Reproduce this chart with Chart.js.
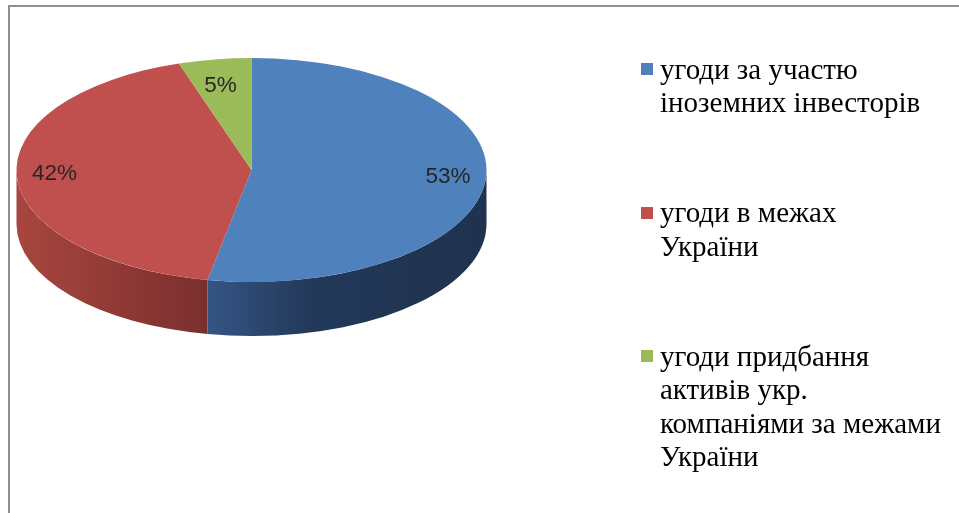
<!DOCTYPE html>
<html>
<head>
<meta charset="utf-8">
<script src="https://cdn.jsdelivr.net/npm/chart.js@4.4.1/dist/chart.umd.min.js"></script>
<style>
  body { margin: 0; background: #fff; }
  #wrap { position: relative; width: 959px; height: 513px; overflow: hidden; }
  #frameTop { position: absolute; left: 8px; top: 5px; width: 960px; height: 2px; background: #8f8f8f; }
  #frameLeft { position: absolute; left: 8px; top: 5px; width: 2px; height: 520px; background: #8f8f8f; }
  #pie { position: absolute; left: 0; top: 0; }
  .item { position: absolute; left: 641px; font-family: "Liberation Serif", "Times New Roman", serif;
          font-size: 29px; line-height: 33.5px; color: #000; }
  .item .box { position: absolute; left: 0; top: 10.5px; width: 12px; height: 12px; }
  .item .txt { margin-left: 19px; white-space: nowrap; }
</style>
</head>
<body>
<div id="wrap">
  <div id="frameTop"></div>
  <div id="frameLeft"></div>
  <canvas id="pie" width="959" height="513"></canvas>
  <div id="legend"></div>
</div>
<script>
// data
const categories = [
  ['угоди за участю', 'іноземних інвесторів'],
  ['угоди в межах', 'України'],
  ['угоди придбання', 'активів укр.', 'компаніями за межами', 'України']
];
const shares = [53, 42, 5];
const sliceColors = ['#4F81BD', '#C0504D', '#9BBB59'];
// side wall shades (light -> dark), left to right
const sideShades = [
  ['#36598a', '#23395a', '#1f324e'],
  ['#a8463f', '#8a3634', '#7b2f2d'],
  ['#7d9a47', '#6a843b', '#5f7635']
];

// 3d look
const TILT = 112 / 235;   // ellipse squash
const DEPTH = 54;         // thickness of the pie
const TOP_CY = 170;       // centre of the top face on screen

const pie3d = {
  id: 'pie3d',
  beforeDatasetsDraw(chart) {
    const ctx = chart.ctx;
    const arcs = chart.getDatasetMeta(0).data;
    const cx = arcs[0].x, cy = arcs[0].y, r = arcs[0].outerRadius;
    const ry = r * TILT;

    // side walls, only the front half shows
    arcs.forEach((arc, i) => {
      const a0 = arc.startAngle, a1 = arc.endAngle;
      for (let k = -1; k <= 2; k++) {
        const lo = Math.max(a0, 2 * Math.PI * k);
        const hi = Math.min(a1, 2 * Math.PI * k + Math.PI);
        if (lo >= hi) continue;
        const g = ctx.createLinearGradient(cx - r, 0, cx + r, 0);
        const sh = sideShades[i];
        if (i === 1) {
          g.addColorStop(0, sh[0]);
          g.addColorStop(0.4, sh[2]);
          g.addColorStop(1, sh[2]);
        } else {
          g.addColorStop(0, sh[0]);
          g.addColorStop(0.38, sh[0]);
          g.addColorStop(0.62, sh[1]);
          g.addColorStop(1, sh[2]);
        }
        ctx.save();
        ctx.beginPath();
        ctx.ellipse(cx, TOP_CY, r, ry, 0, lo, hi, false);
        ctx.ellipse(cx, TOP_CY + DEPTH, r, ry, 0, hi, lo, true);
        ctx.closePath();
        ctx.fillStyle = g;
        ctx.fill();
        ctx.restore();
      }
    });

    // squash the top face that chart.js draws next
    ctx.save();
    ctx.translate(0, TOP_CY);
    ctx.scale(1, TILT);
    ctx.translate(0, -cy);
  },
  afterDatasetsDraw(chart) {
    const ctx = chart.ctx;
    ctx.restore();

    const arcs = chart.getDatasetMeta(0).data;
    const total = shares.reduce((a, b) => a + b, 0);
    ctx.save();
    ctx.font = '22.5px "Liberation Sans", Arial, sans-serif';
    ctx.fillStyle = '#262626';
    ctx.textAlign = 'center';
    ctx.textBaseline = 'middle';
    arcs.forEach((arc, i) => {
      const mid = (arc.startAngle + arc.endAngle) / 2;
      const rr = arc.outerRadius * 0.84;
      let dy = rr * Math.sin(mid) * TILT;
      if (dy < 0) dy *= 0.88;
      const lx = arc.x + rr * Math.cos(mid);
      const ly = TOP_CY + dy - 2;
      ctx.fillText(Math.round(shares[i] / total * 100) + '%', lx, ly);
    });
    ctx.restore();
  }
};

new Chart(document.getElementById('pie'), {
  type: 'pie',
  data: {
    labels: categories.map(c => c.join(' ')),
    datasets: [{
      data: shares,
      backgroundColor: sliceColors,
      borderWidth: 0
    }]
  },
  options: {
    responsive: false,
    animation: false,
    layout: { padding: { left: 16, right: 472, top: 20, bottom: 23 } },
    plugins: {
      legend: { display: false },
      tooltip: { enabled: false }
    }
  },
  plugins: [pie3d]
});

// legend on the right, Excel style spacing
const legend = document.getElementById('legend');
categories.forEach((lines, i) => {
  const item = document.createElement('div');
  item.className = 'item';
  item.style.top = (52.8 + i * 143.4) + 'px';
  const box = document.createElement('div');
  box.className = 'box';
  box.style.background = sliceColors[i];
  const txt = document.createElement('div');
  txt.className = 'txt';
  txt.innerHTML = lines.join('<br>');
  item.appendChild(box);
  item.appendChild(txt);
  legend.appendChild(item);
});
</script>
</body>
</html>
